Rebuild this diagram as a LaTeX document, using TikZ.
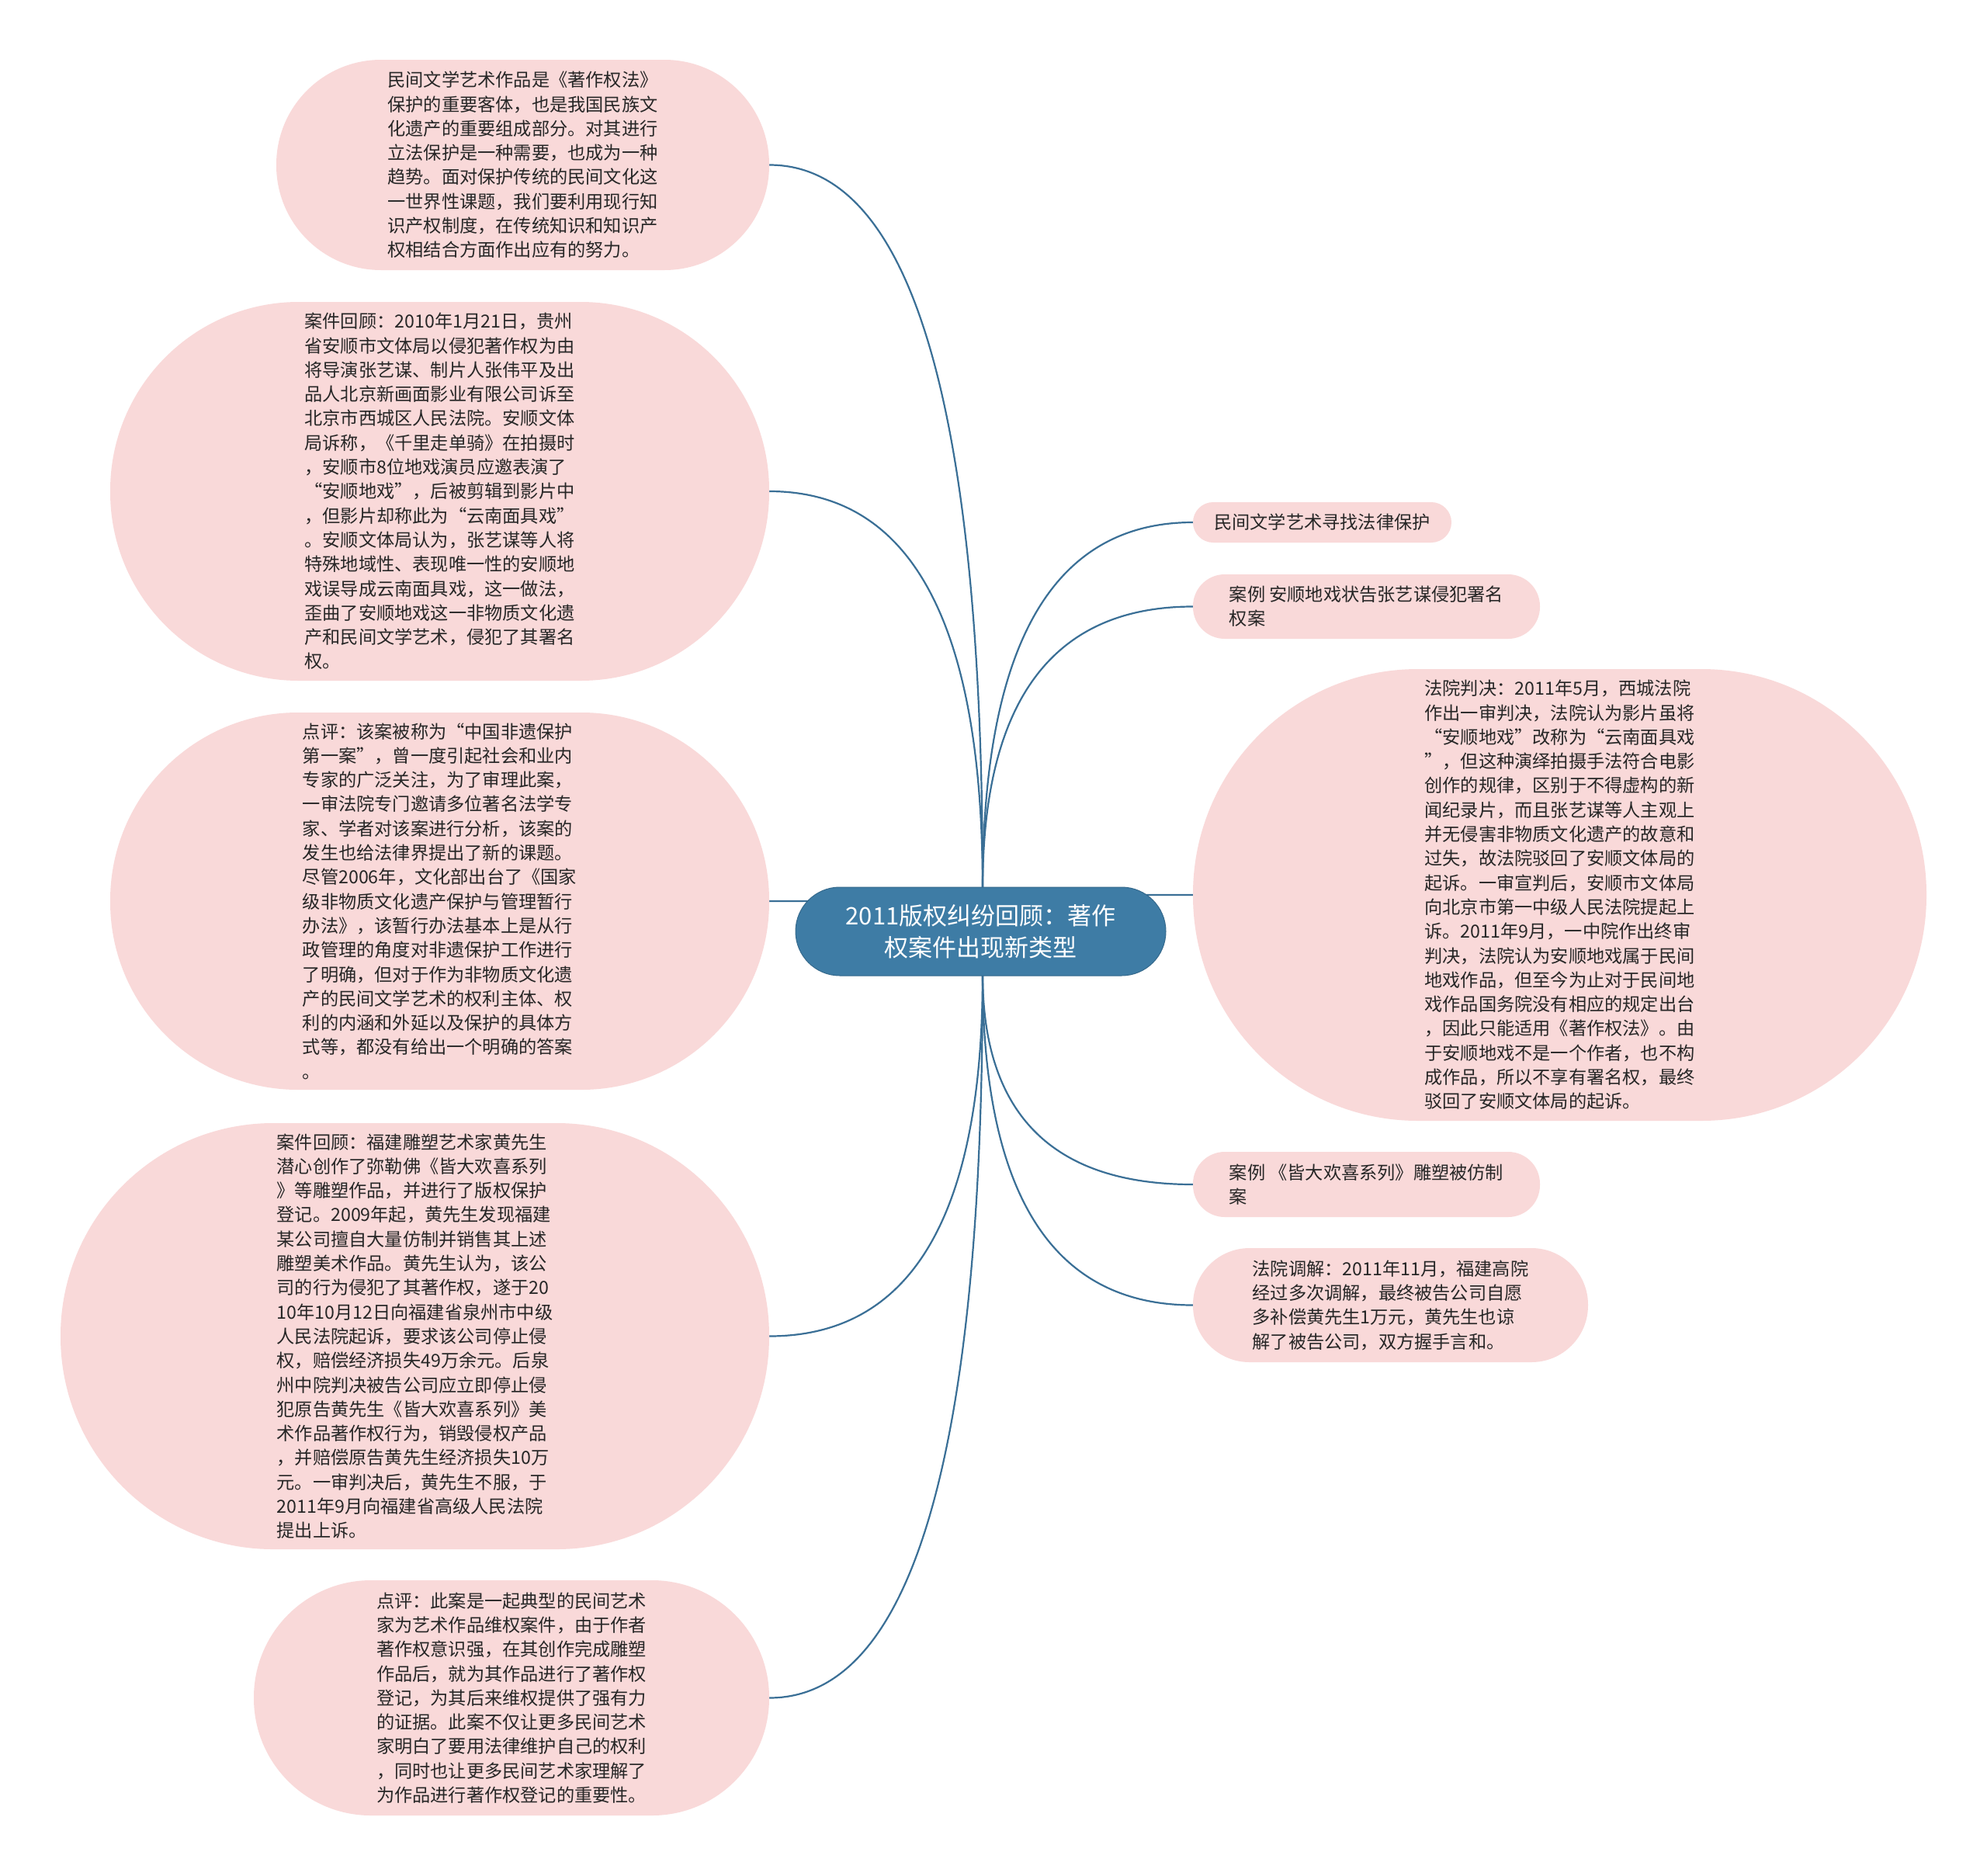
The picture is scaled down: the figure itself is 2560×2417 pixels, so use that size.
\documentclass[tikz,border=0pt]{standalone}
\usepackage{fontspec}
\setmainfont{Noto Sans CJK SC}
\usetikzlibrary{calc}
\definecolor{leafpink}{HTML}{F9D9D9}
\definecolor{hubblue}{HTML}{3E7CA5}
\definecolor{linkblue}{HTML}{3A6F96}
\definecolor{inktext}{HTML}{262626}
\pgfdeclarelayer{bg}
\pgfsetlayers{bg,main}
\tikzset{
	leaf/.style={draw=none, fill=leafpink, inner sep=0pt, align=left, text=inktext,
		font=\fontsize{23.2}{31.3}\selectfont},
	hub/.style={draw=hubblue!85!black, line width=1pt, fill=hubblue, rounded corners=57pt, inner sep=0pt,
		align=center, text=white, minimum width=477pt, minimum height=114pt,
		font=\fontsize{31}{41}\selectfont},
	link/.style={draw=linkblue, line width=2.2pt},
	curvy/.style={to path={.. controls ($(\tikztostart)!2/3!(\tikztostart |- \tikztotarget)$)
		and ($(\tikztotarget)!2/3!(\tikztostart |- \tikztotarget)$) .. (\tikztotarget)}}
}

\begin{document}
\begin{tikzpicture}[x=1pt, y=-1pt]
			%%%%% START %%%%%
			\useasboundingbox (0, 0) rectangle (2560, 2417);
			
			\node[hub] (root) at (1263.5, 1200) {2011版权纠纷回顾：著作\\权案件出现新类型};
			\coordinate (forkUp) at (1266, 1145);
			\coordinate (forkDown) at (1266, 1255);
			
			% left side
			\node[leaf, minimum width=635pt, minimum height=271pt, rounded corners=135pt] (folk) at (673.5, 212.5) {民间文学艺术作品是《著作权法》\\保护的重要客体，也是我国民族文\\化遗产的重要组成部分。对其进行\\立法保护是一种需要，也成为一种\\趋势。面对保护传统的民间文化这\\一世界性课题，我们要利用现行知\\识产权制度，在传统知识和知识产\\权相结合方面作出应有的努力。};
			\node[leaf, minimum width=849pt, minimum height=488pt, rounded corners=243pt] (anshunCase) at (566.5, 633) {案件回顾：2010年1月21日，贵州\\省安顺市文体局以侵犯著作权为由\\将导演张艺谋、制片人张伟平及出\\品人北京新画面影业有限公司诉至\\北京市西城区人民法院。安顺文体\\局诉称，《千里走单骑》在拍摄时\\，安顺市8位地戏演员应邀表演了\\“安顺地戏”，后被剪辑到影片中\\，但影片却称此为“云南面具戏”\\。安顺文体局认为，张艺谋等人将\\特殊地域性、表现唯一性的安顺地\\戏误导成云南面具戏，这一做法，\\歪曲了安顺地戏这一非物质文化遗\\产和民间文学艺术，侵犯了其署名\\权。};
			\node[leaf, minimum width=849pt, minimum height=486pt, rounded corners=242pt] (anshunNote) at (566.5, 1161) {点评：该案被称为“中国非遗保护\\第一案”，曾一度引起社会和业内\\专家的广泛关注，为了审理此案，\\一审法院专门邀请多位著名法学专\\家、学者对该案进行分析，该案的\\发生也给法律界提出了新的课题。\\尽管2006年，文化部出台了《国家\\级非物质文化遗产保护与管理暂行\\办法》，该暂行办法基本上是从行\\政管理的角度对非遗保护工作进行\\了明确，但对于作为非物质文化遗\\产的民间文学艺术的权利主体、权\\利的内涵和外延以及保护的具体方\\式等，都没有给出一个明确的答案\\。};
			\node[leaf, minimum width=913pt, minimum height=549pt, rounded corners=274pt] (statueCase) at (534.5, 1721.5) {案件回顾：福建雕塑艺术家黄先生\\潜心创作了弥勒佛《皆大欢喜系列\\》等雕塑作品，并进行了版权保护\\登记。2009年起，黄先生发现福建\\某公司擅自大量仿制并销售其上述\\雕塑美术作品。黄先生认为，该公\\司的行为侵犯了其著作权，遂于20\\10年10月12日向福建省泉州市中级\\人民法院起诉，要求该公司停止侵\\权，赔偿经济损失49万余元。后泉\\州中院判决被告公司应立即停止侵\\犯原告黄先生《皆大欢喜系列》美\\术作品著作权行为，销毁侵权产品\\，并赔偿原告黄先生经济损失10万\\元。一审判决后，黄先生不服，于\\2011年9月向福建省高级人民法院\\提出上诉。};
			\node[leaf, minimum width=664pt, minimum height=303pt, rounded corners=151pt] (statueNote) at (659, 2187.5) {点评：此案是一起典型的民间艺术\\家为艺术作品维权案件，由于作者\\著作权意识强，在其创作完成雕塑\\作品后，就为其作品进行了著作权\\登记，为其后来维权提供了强有力\\的证据。此案不仅让更多民间艺术\\家明白了要用法律维护自己的权利\\，同时也让更多民间艺术家理解了\\为作品进行著作权登记的重要性。};
			
			% right side
			\node[leaf, minimum width=333pt, minimum height=52pt, rounded corners=26pt] (seek) at (1703.5, 673) {民间文学艺术寻找法律保护};
			\node[leaf, minimum width=447pt, minimum height=83pt, rounded corners=41pt] (anshunTitle) at (1760.5, 781.5) {案例 安顺地戏状告张艺谋侵犯署名\\权案};
			\node[leaf, minimum width=945pt, minimum height=582pt, rounded corners=290pt] (anshunRuling) at (2009.5, 1153) {法院判决：2011年5月，西城法院\\作出一审判决，法院认为影片虽将\\“安顺地戏”改称为“云南面具戏\\”，但这种演绎拍摄手法符合电影\\创作的规律，区别于不得虚构的新\\闻纪录片，而且张艺谋等人主观上\\并无侵害非物质文化遗产的故意和\\过失，故法院驳回了安顺文体局的\\起诉。一审宣判后，安顺市文体局\\向北京市第一中级人民法院提起上\\诉。2011年9月，一中院作出终审\\判决，法院认为安顺地戏属于民间\\地戏作品，但至今为止对于民间地\\戏作品国务院没有相应的规定出台\\，因此只能适用《著作权法》。由\\于安顺地戏不是一个作者，也不构\\成作品，所以不享有署名权，最终\\驳回了安顺文体局的起诉。};
			\node[leaf, minimum width=447pt, minimum height=84pt, rounded corners=41pt] (statueTitle) at (1760.5, 1526) {案例 《皆大欢喜系列》雕塑被仿制\\案};
			\node[leaf, minimum width=509pt, minimum height=147pt, rounded corners=73pt] (mediation) at (1791.5, 1681.5) {法院调解：2011年11月，福建高院\\经过多次调解，最终被告公司自愿\\多补偿黄先生1万元，黄先生也谅\\解了被告公司，双方握手言和。};
			
			% connectors, under the nodes
			\begin{pgfonlayer}{bg}
			\fill[white] (0, 0) rectangle (2560, 2417);
			\draw[link] (forkUp) to[curvy] (folk.east);
			\draw[link] (forkUp) to[curvy] (anshunCase.east);
			\draw[link] (forkUp) to[curvy] (anshunNote.east);
			\draw[link] (forkDown) to[curvy] (statueCase.east);
			\draw[link] (forkDown) to[curvy] (statueNote.east);
			\draw[link] (forkUp) to[curvy] (seek.west);
			\draw[link] (forkUp) to[curvy] (anshunTitle.west);
			\draw[link] (forkUp) to[curvy] (anshunRuling.west);
			\draw[link] (forkDown) to[curvy] (statueTitle.west);
			\draw[link] (forkDown) to[curvy] (mediation.west);
			\end{pgfonlayer}
			%%%%% END %%%%%
\end{tikzpicture}
\end{document}
